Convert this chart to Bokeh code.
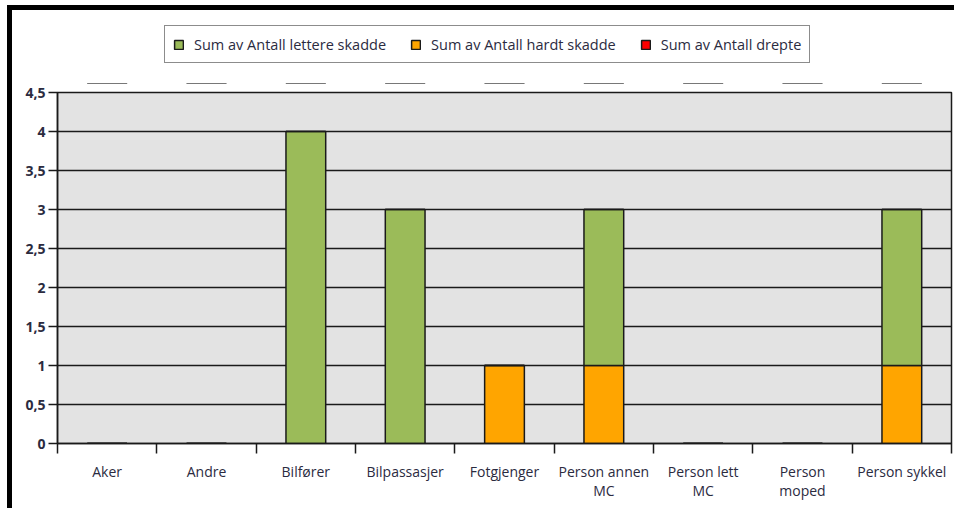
from bokeh.plotting import figure
from bokeh.models import (ColumnDataSource, FixedTicker, Legend, LegendItem, Range1d, Div, Spacer)
from bokeh.layouts import column, row
from bokeh.embed import file_html
from bokeh.resources import INLINE

categories = ["Aker", "Andre", "Bilfører", "Bilpassasjer", "Fotgjenger",
              "Person annen\nMC", "Person lett\nMC", "Person\nmoped", "Person sykkel"]
lettere_skadde = [0, 0, 4, 3, 0, 2, 0, 0, 2]
hardt_skadde = [0, 0, 0, 0, 1, 1, 0, 0, 1]
drepte = [0, 0, 0, 0, 0, 0, 0, 0, 0]
series_names = ["Sum av Antall lettere skadde", "Sum av Antall hardt skadde", "Sum av Antall drepte"]
series_columns = ["lettere", "hardt", "drepte"]
series_colors = ["#9bbb59", "#ffa500", "#ff0000"]
y_ticks = [0, 0.5, 1, 1.5, 2, 2.5, 3, 3.5, 4, 4.5]
y_tick_labels = ["0", "0,5", "1", "1,5", "2", "2,5", "3", "3,5", "4", "4,5"]

FONT = "Open Sans"
TXT = "#2b2b3f"
EDGE = "#1a1a1a"

n = len(categories)
x_centers = [i + 0.5 for i in range(n)]
src = ColumnDataSource(dict(x=x_centers, hardt=hardt_skadde, lettere=lettere_skadde, drepte=drepte))

# ---------------- main chart ----------------
p = figure(width=942, height=424, output_backend="svg", toolbar_location=None,
           x_range=Range1d(0, n), y_range=Range1d(0, 4.5),
           min_border_left=45, min_border_right=3, min_border_top=8, min_border_bottom=65)

p.background_fill_color = "#e3e3e3"
p.border_fill_color = "white"
p.outline_line_color = EDGE
p.outline_line_width = 1.5

p.vbar_stack(["hardt", "lettere", "drepte"], x="x", width=0.4, source=src,
             color=[series_colors[1], series_colors[0], series_colors[2]],
             line_color=EDGE, line_width=1.5)

# x axis: ticks at category boundaries (minor), labels at centers
p.xaxis.ticker = FixedTicker(ticks=x_centers, minor_ticks=list(range(n + 1)))
p.xaxis.major_label_overrides = {x: c for x, c in zip(x_centers, categories)}
p.xaxis.major_tick_out = 0
p.xaxis.major_tick_in = 0
p.xaxis.minor_tick_out = 10
p.xaxis.minor_tick_in = 0
p.xaxis.minor_tick_line_color = EDGE
p.xaxis.minor_tick_line_width = 1.5
p.xaxis.axis_line_color = EDGE
p.xaxis.axis_line_width = 1.5
p.xaxis.major_label_standoff = 8
p.xaxis.major_label_text_font = FONT
p.xaxis.major_label_text_font_size = "14px"
p.xaxis.major_label_text_line_height = 1.0
p.xaxis.major_label_text_color = TXT
p.xgrid.visible = False

# y axis
p.yaxis.ticker = FixedTicker(ticks=y_ticks)
p.yaxis.major_label_overrides = {t: l for t, l in zip(y_ticks, y_tick_labels)}
p.yaxis.minor_tick_line_color = None
p.yaxis.major_tick_out = 9
p.yaxis.major_tick_in = 0
p.yaxis.major_tick_line_color = EDGE
p.yaxis.major_tick_line_width = 1.5
p.yaxis.axis_line_color = EDGE
p.yaxis.axis_line_width = 1.5
p.yaxis.major_label_standoff = 3
p.yaxis.major_label_text_font = FONT
p.yaxis.major_label_text_font_size = "14px"
p.yaxis.major_label_text_font_style = "bold"
p.yaxis.major_label_text_color = TXT
p.ygrid.grid_line_color = EDGE
p.ygrid.grid_line_width = 1.5

# ---------------- legend strip above the chart ----------------
# (its y range lies above all values, so the series glyphs only show as legend swatches)
pl = figure(width=942, height=74, output_backend="svg", toolbar_location=None,
            x_axis_location=None, y_axis_location=None,
            x_range=Range1d(0, n), y_range=Range1d(10, 11),
            min_border_left=0, min_border_right=0, min_border_top=0, min_border_bottom=0)
pl.outline_line_color = None
pl.background_fill_color = "white"
pl.border_fill_color = "white"
pl.grid.visible = False
swatches = [pl.vbar(x="x", top=col, width=0.4, source=src,
                    fill_color=c, line_color=EDGE, line_width=1.5)
            for col, c in zip(series_columns, series_colors)]

legend = Legend(items=[LegendItem(label=name, renderers=[r]) for name, r in zip(series_names, swatches)],
                orientation="horizontal", location=(107, 21))
legend.border_line_color = EDGE
legend.border_line_width = 1.5
legend.background_fill_color = "white"
legend.background_fill_alpha = 1
legend.label_text_font = FONT
legend.label_text_font_size = "14.5px"
legend.label_text_color = TXT
legend.glyph_width = 11
legend.glyph_height = 11
legend.label_standoff = 10
legend.spacing = 24
legend.padding = 8
legend.margin = 0
legend.label_height = 20
pl.add_layout(legend, "center")

# page frame lines of the source document
left_bar = Div(text="", width=5, height=503, margin=0, styles={"background-color": "black"})
top_bar = Div(text="", width=942, height=5, margin=0, styles={"background-color": "black"})
layout = column(Spacer(width=1, height=5, margin=0),
                row(Spacer(width=7, height=1, margin=0), left_bar,
                    column(top_bar, pl, p, spacing=0), spacing=0),
                spacing=0)

open("out.html", "w").write(file_html(layout, INLINE))
